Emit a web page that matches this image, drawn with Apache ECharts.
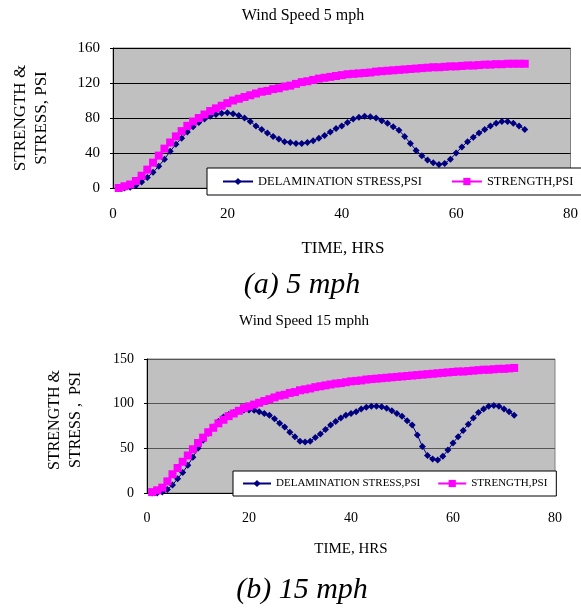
<!DOCTYPE html>
<html>
<head>
<meta charset="utf-8">
<script src="https://cdn.jsdelivr.net/npm/echarts@6/dist/echarts.min.js"></script>
<style>
  html, body { margin: 0; padding: 0; background: #fff; }
  #chart { width: 581px; height: 609px; }
</style>
</head>
<body>
<div id="chart"></div>
<script>
// time, hrs
const hours = [1, 2, 3, 4, 5, 6, 7, 8, 9, 10, 11, 12, 13, 14, 15, 16, 17, 18, 19, 20,
  21, 22, 23, 24, 25, 26, 27, 28, 29, 30, 31, 32, 33, 34, 35, 36, 37, 38, 39, 40,
  41, 42, 43, 44, 45, 46, 47, 48, 49, 50, 51, 52, 53, 54, 55, 56, 57, 58, 59, 60,
  61, 62, 63, 64, 65, 66, 67, 68, 69, 70, 71, 72];

// wind speed 5 mph
const stress5 = [0, 0, 1, 3, 7, 12, 18, 25, 33, 42,
  50, 57, 64, 70, 75, 79, 82, 84, 85.5, 86,
  85, 83, 80, 76, 71, 67, 63, 59, 56, 53,
  52, 51, 51, 52, 54, 57, 60, 64, 68, 71,
  75, 79, 81, 82, 81.5, 80, 77, 74, 70, 66,
  59, 51, 43, 37, 32, 29, 27, 28, 33, 40,
  47, 53, 58, 63, 67, 71, 74, 76, 76, 74,
  71, 67];
const strength5 = [0, 2, 4, 8, 14, 21, 29, 37, 45, 52,
  59, 65, 71, 76, 80, 84, 88, 91, 94, 97,
  100, 102, 104, 106, 108, 110, 111, 113, 114, 116,
  117, 119, 121, 122, 123.5, 125, 126, 127, 128, 129,
  130, 130.5, 131, 131.5, 132, 133, 133.5, 134, 134.5, 135,
  135.5, 136, 136.5, 137, 137.5, 138, 138, 138.5, 139, 139,
  139.5, 140, 140, 140.5, 141, 141, 141.5, 141.5, 142, 142,
  142, 142];

// wind speed 15 mph
const stress15 = [0, 0, 1, 4, 9, 16, 23, 31, 40, 50,
  59, 67, 74, 80, 85, 88, 90, 92, 93, 93,
  92.5, 91, 89, 87, 83, 78, 74, 68, 63, 58,
  57, 58, 62, 66, 71, 76, 80, 84, 87, 89,
  91, 94, 96, 97, 97, 96.5, 95, 92, 89, 86,
  81, 76, 65, 52, 42, 38, 37, 41, 48, 56,
  63, 70, 77, 84, 90, 94, 97, 98, 97, 94,
  91, 87];
const strength15 = [1, 3, 6, 13, 21, 28, 35, 42, 49, 56,
  62, 68, 73, 78, 82, 86, 89, 92, 95, 97,
  99, 101, 103, 105, 107, 109, 110, 112, 113, 115,
  116, 117, 118.5, 119.5, 120.5, 121.5, 122.5, 123, 124, 125,
  125.5, 126, 127, 127.5, 128, 128.5, 129, 129.5, 130, 130.5,
  131, 131.5, 132, 132.5, 133, 133.5, 134, 134.5, 135, 135.5,
  136, 136, 136.5, 137, 137.5, 138, 138, 138.5, 139, 139,
  139.5, 140];

const seriesNames = ['DELAMINATION STRESS,PSI', 'STRENGTH,PSI'];
const SERIF = "'Liberation Serif', 'Times New Roman', serif";

const pairs = (ys) => hours.map((h, i) => [h, ys[i]]);

const stressSeries = (idx, ys) => ({
  name: seriesNames[0], type: 'line', xAxisIndex: idx, yAxisIndex: idx,
  data: pairs(ys), symbol: 'diamond', symbolSize: 7,
  itemStyle: { color: '#000080' }, lineStyle: { color: '#000080', width: 1 }
});
const strengthSeries = (idx, ys) => ({
  name: seriesNames[1], type: 'line', xAxisIndex: idx, yAxisIndex: idx,
  data: pairs(ys), symbol: 'rect', symbolSize: 8,
  itemStyle: { color: '#ff00ff' }, lineStyle: { color: '#ff00ff', width: 1 }
});

const xAxisOf = (idx, fs, margin) => ({
  gridIndex: idx, type: 'value', min: 0, max: 80, interval: 20,
  axisLine: { show: true, lineStyle: { color: '#000' } },
  axisTick: { show: false },
  axisLabel: { margin: margin, color: '#000', fontFamily: SERIF, fontSize: fs },
  splitLine: { show: false }
});
const yAxisOf = (idx, max, step, fs, margin, gridColor) => ({
  gridIndex: idx, type: 'value', min: 0, max: max, interval: step,
  axisLine: { show: true, lineStyle: { color: '#000' } },
  axisTick: { show: true, length: 3, lineStyle: { color: '#000' } },
  axisLabel: { margin: margin, color: '#000', fontFamily: SERIF, fontSize: fs },
  splitLine: { show: true, lineStyle: { color: gridColor, width: 1 } }
});
const legendOf = (left, top, width, fs, pad, gap, iw) => ({
  data: seriesNames, left: left, top: top, width: width, orient: 'horizontal',
  padding: pad, itemGap: gap, itemWidth: iw, itemHeight: 9,
  backgroundColor: '#fff', borderColor: '#000', borderWidth: 1, borderRadius: 0,
  textStyle: { color: '#000', fontFamily: SERIF, fontSize: fs },
  z: 10
});
const label = (text, x, y, font, extra) => Object.assign({
  type: 'text', x: x, y: y, z: 20,
  style: { text: text, font: font, fill: '#000', align: 'center', verticalAlign: 'middle',
    lineHeight: 21 }
}, extra || {});

const chart = echarts.init(document.getElementById('chart'));
chart.setOption({
  animation: false,
  backgroundColor: '#fff',
  grid: [
    { left: 113, top: 48, width: 459, height: 140, show: true,
      backgroundColor: '#c0c0c0', borderColor: '#808080', borderWidth: 1 },
    { left: 147, top: 359, width: 408, height: 134, show: true,
      backgroundColor: '#c0c0c0', borderColor: '#808080', borderWidth: 1 }
  ],
  xAxis: [xAxisOf(0, 15, 19), xAxisOf(1, 14, 18)],
  yAxis: [yAxisOf(0, 160, 40, 15, 13, '#000'), yAxisOf(1, 150, 50, 14, 13, '#555')],
  legend: [
    legendOf(207, 168, 420, 12.5, [7, 15, 7, 15], 29, 30),
    legendOf(233, 471, 340, 11, [7, 9, 7, 9], 17, 28)
  ],
  series: [
    stressSeries(0, stress5), strengthSeries(0, strength5),
    stressSeries(1, stress15), strengthSeries(1, strength15)
  ],
  graphic: [
    label('Wind Speed 5 mph', 303, 16, '16px ' + SERIF),
    label('STRENGTH &\nSTRESS, PSI', 31, 118, '17px ' + SERIF,
      { rotation: Math.PI / 2 }),
    label('TIME, HRS', 343, 249, '17px ' + SERIF),
    label('(a) 5 mph', 302, 285, 'italic 30px ' + SERIF),
    label('Wind Speed 15 mphh', 304, 321, '15px ' + SERIF),
    label('STRENGTH &\nSTRESS ,  PSI', 65, 420, '16px ' + SERIF,
      { rotation: Math.PI / 2 }),
    label('TIME, HRS', 351, 549, '15px ' + SERIF),
    label('(b) 15 mph', 302, 590, 'italic 30px ' + SERIF)
  ]
});
</script>
</body>
</html>
